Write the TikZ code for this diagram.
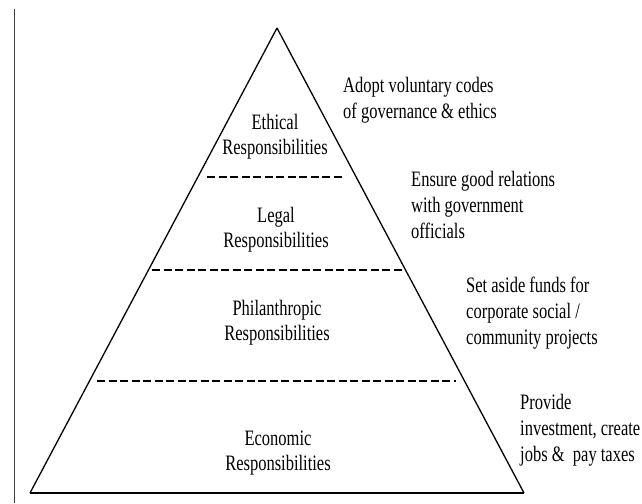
\documentclass[tikz,border=0pt]{standalone}
\usepackage{fontspec}
\setmainfont[FakeStretch=0.75]{Liberation Serif}
\begin{document}
\begin{tikzpicture}[x=1pt,y=-1pt,
  tang/.style={font=\fontsize{22}{25}\selectfont,align=center,inner sep=0pt},
  ghichu/.style={font=\fontsize{22}{26}\selectfont,align=left,anchor=west,inner sep=0pt},
  vach/.style={dash pattern=on 8pt off 3.5pt,line width=1.6pt}]
\useasboundingbox (0,0) rectangle (642,503);
\draw[line width=1pt,black!75] (14,9) -- (14,503); % đường lề trái
\coordinate (A) at (277,28); % đỉnh tháp
\coordinate (B) at (30,493); % góc trái
\coordinate (C) at (524,493); % góc phải
\draw[line width=1.3pt] (A) -- (B) (A) -- (C);
\draw[line width=2pt] (B) -- (C); % đáy
% các vạch ngăn tầng
\coordinate (v1t) at (207,177); \coordinate (v1p) at (343,177);
\coordinate (v2t) at (152,270); \coordinate (v2p) at (402,270);
\coordinate (v3t) at (97,381);  \coordinate (v3p) at (456,381);
\draw[vach] (v1t) -- (v1p);
\draw[vach] (v2t) -- (v2p);
\draw[vach] (v3t) -- (v3p);
% tên các tầng
\node[tang] (ethical) at (275,137) {Ethical\\Responsibilities};
\node[tang] (legal) at (276,230) {Legal\\Responsibilities};
\node[tang] (philan) at (277,323) {Philanthropic\\Responsibilities};
\node[tang] (econ) at (278,453) {Economic\\Responsibilities};
% ghi chú bên phải
\node[ghichu] (g1) at (343,100) {Adopt voluntary codes\\of governance \& ethics};
\node[ghichu] (g2) at (411,205) {Ensure good relations\\with government\\officials};
\node[ghichu] (g3) at (466,313) {Set aside funds for\\corporate social /\\community projects};
\node[ghichu] (g4) at (520,430) {Provide\\investment, create\\jobs \& \ pay taxes};
\end{tikzpicture}
\end{document}
